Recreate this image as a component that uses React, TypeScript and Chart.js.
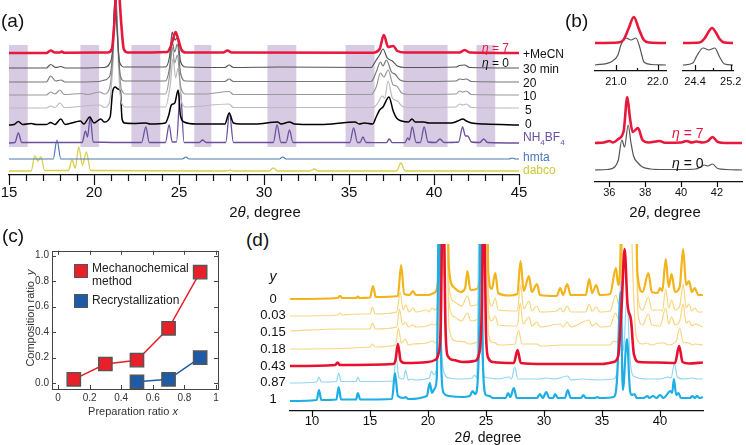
import React, { useEffect, useRef } from "react";
import { Chart, registerables } from "chart.js";
Chart.register(...registerables);

const FONT = "'Liberation Sans', Arial, Helvetica, sans-serif";
type P = [number, number];

// ---------------- Panel (a) ----------------
const aTickLabels = [15, 20, 25, 30, 35, 40, 45];
const aMinorTicks = [16, 17, 18, 19, 21, 22, 23, 24, 26, 27, 28, 29, 31, 32, 33, 34, 36, 37, 38, 39, 41, 42, 43, 44];
const aShadeRanges: P[] = [[15.0, 16.1], [19.2, 20.3], [22.2, 23.9], [25.9, 26.9], [30.2, 31.9], [34.8, 36.5], [38.2, 40.8], [42.5, 43.6]];
const aShadeTop = 130;
const aShadeBottom = 28;
const aSeriesNames = ["+MeCN", "30 min", "20", "10", "5", "0", "NH4BF4", "hmta", "dabco"];
const aOffsets = [122, 107, 93, 80, 67, 50, 32, 16, 4];

const aMeCN: P[] = [[15, 0], [17.2, 0], [17.45, 2.5], [17.7, 0.5], [18.0, 0.5], [18.1, 1.5], [18.25, 0.3], [20.8, 0.5], [21.05, 4], [21.2, 30], [21.32, 62], [21.45, 62], [21.6, 30], [21.75, 4], [22.0, 0.5], [24.3, 1], [24.5, 6], [24.65, 14], [24.8, 21], [24.95, 14], [25.15, 3], [25.4, 0.5], [27.6, 0.5], [27.85, 2.5], [28.1, 0.5], [36.4, 0.3], [36.8, 4], [37.05, 18], [37.3, 6], [37.6, 7], [37.85, 2], [38.3, 0.5], [41.5, 0.5], [41.8, 3], [42.1, 0.5], [45, 0]];
const a30min: P[] = [[15, 0], [17.2, 0], [17.45, 3.5], [17.75, 0.5], [18.05, 1.5], [18.3, 0], [20.6, 0.5], [20.9, 4], [21.1, 20], [21.22, 68], [21.35, 40], [21.5, 6], [21.8, 1], [24.2, 1], [24.45, 12], [24.6, 36], [24.75, 28], [24.9, 30], [25.1, 6], [25.4, 1], [27.7, 0.5], [27.95, 3], [28.2, 0.5], [30.9, 1], [36.3, 0.5], [36.6, 8], [36.8, 13], [37.0, 19], [37.25, 10], [37.55, 7], [37.85, 2], [38.3, 0.5], [41.3, 1], [41.5, 2.5], [41.8, 3], [42.1, 0.5], [45, 0]];
const a20: P[] = [[15, 0], [17.2, 0], [17.45, 6], [17.75, 1], [18.05, 2], [18.3, 0], [20.3, 0.5], [20.5, 1.5], [20.9, 5], [21.1, 30], [21.25, 85], [21.4, 40], [21.55, 6], [21.8, 1], [24.2, 1], [24.45, 15], [24.6, 40], [24.75, 30], [24.9, 38], [25.1, 8], [25.4, 1], [27.7, 0.5], [27.95, 3], [28.2, 0.5], [36.3, 0.5], [36.6, 10], [36.85, 20], [37.0, 16], [37.2, 22], [37.5, 10], [37.7, 8], [38.0, 2], [38.4, 0.5], [41.3, 1], [41.5, 3], [41.7, 2.5], [41.9, 3], [42.2, 0.5], [45, 0]];
const a10: P[] = [[15, 0], [17.2, 0], [17.45, 3], [17.7, 1], [18.0, 5], [18.25, 0.5], [19.3, 1.5], [19.6, 0.5], [20.35, 3], [20.6, 1], [20.9, 6], [21.1, 35], [21.28, 98], [21.45, 40], [21.6, 6], [21.9, 1], [24.2, 1], [24.45, 20], [24.6, 48], [24.75, 32], [24.9, 40], [25.1, 8], [25.4, 1], [26.5, 1], [27.95, 3.5], [28.2, 0.5], [36.3, 0.5], [36.6, 8], [36.85, 22], [37.05, 18], [37.3, 25], [37.6, 10], [37.8, 9], [38.1, 2], [38.5, 0.5], [41.3, 1], [41.5, 4], [41.7, 3], [41.9, 4], [42.2, 0.5], [45, 0]];
const a5: P[] = [[15, 0], [17.2, 0], [17.45, 2], [17.7, 0.5], [18.0, 5], [18.25, 0.5], [20.35, 3], [20.6, 0.5], [20.9, 5], [21.1, 40], [21.3, 110], [21.45, 40], [21.6, 6], [21.9, 1], [24.2, 1], [24.5, 25], [24.65, 50], [24.8, 30], [24.95, 40], [25.15, 6], [25.4, 1], [27.95, 4], [28.2, 0.5], [36.4, 0.5], [36.7, 5], [36.95, 12], [37.1, 10], [37.3, 27], [37.55, 10], [37.85, 7], [38.1, 2], [38.5, 0.5], [41.3, 1], [41.5, 4], [41.7, 3], [41.9, 4], [42.2, 0.5], [45, 0]];
const a0: P[] = [[15, 0], [15.3, 0.5], [15.55, 3.5], [15.8, 0.5], [16.3, 1.5], [16.6, 0.5], [17.2, 0.5], [17.45, 2.5], [17.7, 0.5], [18.05, 6], [18.3, 0.5], [18.9, 3], [19.2, 4], [19.4, 1], [19.75, 8], [20.0, 2], [20.4, 6], [20.6, 3], [20.95, 8], [21.1, 34], [21.25, 38], [21.4, 36], [21.55, 34], [21.65, 6], [21.8, 2], [22.3, 1.5], [23.05, 2], [23.3, 1], [24.2, 2], [24.4, 10], [24.55, 20], [24.75, 22], [24.95, 35], [25.08, 10], [25.3, 3], [26.0, 1], [27.7, 1], [27.95, 12], [28.2, 2], [28.6, 1], [29.5, 1], [30.8, 3], [31.0, 1], [31.5, 3], [31.8, 1], [33.0, 0.5], [34.0, 1], [35.35, 3], [35.6, 1], [35.9, 2], [36.4, 1], [36.6, 8], [36.8, 15], [37.0, 18], [37.35, 28], [37.6, 14], [37.8, 7], [38.1, 4], [38.5, 3], [38.7, 6], [38.9, 3], [39.4, 3], [39.7, 2], [40.4, 2], [41.0, 2], [41.4, 4], [41.7, 6], [41.9, 4], [42.2, 2], [43.0, 1], [45, 0]];
const aNH4BF4: P[] = [[15, 0], [15.35, 0.5], [15.55, 10], [15.75, 0.5], [19.3, 0.5], [19.5, 12], [19.62, 6], [19.78, 26], [19.95, 1], [22.8, 0.5], [23.05, 16], [23.25, 0.5], [24.2, 0.5], [24.42, 18], [24.6, 1], [24.85, 1], [25.08, 52], [25.3, 0.5], [26.2, 0.5], [26.38, 3], [26.6, 0.5], [27.75, 0.5], [27.97, 30], [28.2, 0.5], [30.55, 0.5], [30.77, 18], [31.0, 0.5], [31.3, 0.5], [31.5, 13], [31.7, 0.5], [35.05, 0.5], [35.27, 15], [35.5, 0.5], [35.65, 0.5], [35.82, 6], [36.0, 0.5], [37.2, 0.3], [37.37, 4], [37.55, 0.3], [38.3, 0.5], [38.45, 5], [38.55, 3], [38.72, 16], [38.95, 0.5], [39.2, 0.5], [39.42, 16], [39.65, 1], [40.1, 0.5], [40.35, 4], [40.6, 0.5], [41.45, 1], [41.68, 16], [41.85, 7], [41.98, 7], [42.2, 1], [42.7, 0.5], [42.92, 4], [43.15, 0.5], [45, 0]];
const aHmta: P[] = [[15, 0], [17.6, 0], [17.82, 19], [18.05, 0], [25.2, 0], [25.4, 2], [25.6, 0], [30.9, 0], [31.1, 2], [31.3, 0], [44.4, 0], [44.6, 1], [44.8, 0], [45, 0]];
const aDabco: P[] = [[15, 0], [16.3, 0], [16.52, 15], [16.7, 10], [16.88, 14], [17.1, 0.5], [18.5, 0.5], [18.7, 11], [18.9, 3], [19.1, 24], [19.32, 6], [19.55, 19], [19.8, 0.5], [27.8, 0], [28.0, 1], [28.2, 0], [30.3, 0], [30.55, 3], [30.8, 0], [32.7, 0], [32.95, 2], [33.2, 0], [37.8, 0], [38.05, 8], [38.3, 0], [45, 0]];
const aSeries = [aMeCN, a30min, a20, a10, a5, a0, aNH4BF4, aHmta, aDabco];
const aColors = ["#e8173c", "#555555", "#777777", "#999999", "#bbbbbb", "#000000", "#6b4f9e", "#4a78b5", "#d6d04a"];
const aWidths = [2.6, 1.2, 1.2, 1.2, 1.2, 1.5, 1.3, 1.2, 1.3];

// ---------------- Panel (b) ----------------
const bTLTicks = [21.0, 22.0];
const bTLMinor = [21.5];
const bTRTicks = [24.4, 25.2];
const bTRMinor = [24.8];
const bBotTicks = [36, 38, 40, 42];
const bOffsetsTop = [28, 6];
const bOffsetsBot = [39, 12];
const bTLRed: P[] = [[20.5, 0], [21.05, 0.5], [21.18, 3], [21.3, 14], [21.43, 26], [21.55, 14], [21.67, 3], [21.8, 0.5], [22.2, 0]];
const bTLGray: P[] = [[20.5, 0], [20.88, 3], [21.05, 10], [21.12, 20], [21.24, 27], [21.36, 25], [21.48, 27], [21.57, 18], [21.62, 10], [21.67, 3], [21.85, 0.5], [22.2, 0]];
const bTRRed: P[] = [[24.13, 0], [24.5, 0.5], [24.62, 5], [24.7, 11], [24.78, 15], [24.86, 11], [24.95, 4], [25.05, 0.5], [25.25, 0]];
const bTRGray: P[] = [[24.13, 0], [24.35, 2], [24.45, 10], [24.58, 17], [24.71, 15], [24.84, 17], [24.95, 8], [25.06, 1], [25.25, 0]];
const bBotRed: P[] = [[35.2, 0], [35.7, 0.5], [36.0, 2], [36.2, 0.5], [36.5, 4], [36.8, 12], [37.0, 46], [37.15, 25], [37.3, 11], [37.6, 15], [37.85, 3], [38.2, 0.5], [38.8, 2], [39.1, 0.3], [40.0, 0.5], [40.3, 2], [40.6, 0.5], [40.85, 1.5], [41.2, 0.5], [41.5, 2], [41.75, 6], [42.05, 1], [42.5, 0], [43.4, 0]];
const bBotGray: P[] = [[35.2, 0], [35.9, 0.5], [36.3, 3], [36.5, 10], [36.7, 30], [36.85, 23], [37.05, 45], [37.2, 28], [37.35, 14], [37.6, 7], [37.85, 3], [38.3, 1], [39.0, 0.5], [40.0, 0.5], [40.8, 1], [41.1, 3], [41.3, 5], [41.5, 4], [41.75, 6], [42.05, 1.5], [42.5, 0.5], [43.4, 0]];

// ---------------- Panel (c) ----------------
const cPrepMechano = [0.1, 0.3, 0.5, 0.7, 0.9];
const cCompMechano = [0.03, 0.15, 0.18, 0.43, 0.87];
const cPrepRecryst = [0.5, 0.7, 0.9];
const cCompRecryst = [0.01, 0.03, 0.2];
const cXTicks = [0, 0.2, 0.4, 0.6, 0.8, 1];
const cYTicks = [0, 0.2, 0.4, 0.6, 0.8, 1.0];

// ---------------- Panel (d) ----------------
const dTicks = [10, 15, 20, 25, 30, 35, 40];
const dLabels = ["0", "0.03", "0.15", "0.18", "0.43", "0.87", "1"];
const dOffsets = [114, 97, 82, 64, 47, 30, 12];
const dY0: P[] = [[8.1, -2], [12.2, -1], [12.4, 1], [12.6, -1], [13.8, -1], [13.95, 0.5], [14.1, -1], [15.0, -0.5], [15.25, 11], [15.5, 0], [17.4, 1], [17.68, 32], [17.95, 3], [18.4, 2], [18.7, 6], [18.95, 2], [20.0, 2], [20.5, 4], [20.8, 10], [21.0, 60], [21.15, 200], [21.35, 80], [21.55, 200], [21.8, 30], [22.2, 10], [22.8, 5], [23.2, 9], [23.4, 26], [23.65, 7], [24.2, 8], [24.5, 22], [24.7, 60], [24.85, 200], [25.0, 200], [25.2, 25], [25.5, 8], [25.8, 24], [26.05, 4], [27.0, 1.5], [27.7, 3], [27.98, 36], [28.25, 6], [28.7, 21], [28.95, 5], [29.4, 13], [29.65, 2], [31.1, 1], [31.4, 9], [31.65, 2], [32.0, 13], [32.3, 2], [33.6, 2], [33.9, 18], [34.15, 4], [34.5, 12], [34.8, 2], [35.7, 3], [36.2, 29], [36.4, 12], [36.6, 45], [36.75, 200], [36.95, 60], [37.3, 200], [37.5, 70], [37.8, 200], [38.05, 25], [38.5, 5], [39.0, 24], [39.3, 5], [39.8, 4], [40.0, 9], [40.2, 6], [40.5, 38], [40.75, 10], [41.0, 23], [41.3, 5], [41.7, 10], [42.0, 48], [42.25, 12], [42.5, 16], [42.75, 5], [43.0, 9], [43.3, 2], [43.7, 2]];
const dY003: P[] = [[8.1, -2], [12.2, -1], [12.4, 1], [12.6, -1], [13.9, 0], [15.0, 0], [15.2, 7], [15.45, 0], [17.3, 2], [17.6, 22], [17.85, 4], [18.1, 9], [18.35, 2], [18.7, 6], [18.95, 2], [19.9, 4], [20.1, 2], [20.35, 6], [20.6, 4], [20.85, 12], [21.1, 200], [21.35, 70], [21.55, 200], [21.8, 28], [22.3, 12], [22.9, 8], [23.4, 18], [23.7, 8], [24.3, 10], [24.6, 50], [24.85, 200], [25.0, 200], [25.2, 22], [25.5, 8], [25.8, 16], [26.05, 4], [27.7, 3], [27.98, 29], [28.25, 5], [28.7, 13], [28.95, 3], [29.4, 8], [29.65, 2], [31.1, 3], [31.4, 6], [31.65, 2], [32.0, 8], [32.3, 2], [33.6, 2], [33.9, 10], [34.15, 3], [34.5, 7], [34.8, 2], [35.7, 3], [36.2, 19], [36.45, 10], [36.7, 40], [36.9, 200], [37.4, 200], [37.8, 200], [38.1, 18], [38.5, 4], [39.0, 17], [39.3, 4], [40.0, 4], [40.2, 3], [40.5, 25], [40.75, 6], [41.0, 14], [41.3, 4], [41.7, 8], [42.0, 30], [42.25, 6], [42.5, 10], [42.75, 3], [43.0, 6], [43.3, 2], [43.7, 2]];
const dY015: P[] = [[8.1, -2], [12.4, 0], [13.9, 0], [15.0, 0], [15.2, 6], [15.45, 0], [17.3, 2], [17.55, 20], [17.8, 4], [18.05, 7], [18.3, 2], [18.7, 4], [18.95, 2], [19.9, 3], [20.35, 5], [20.6, 4], [20.85, 12], [21.1, 200], [21.35, 70], [21.55, 200], [21.8, 26], [22.3, 12], [22.9, 8], [23.4, 16], [23.7, 8], [24.3, 10], [24.6, 50], [24.85, 200], [25.0, 200], [25.2, 20], [25.5, 8], [25.8, 13], [26.05, 4], [27.7, 3], [27.95, 26], [28.2, 5], [28.7, 12], [28.95, 3], [29.4, 7], [29.65, 2], [31.4, 5], [31.65, 2], [32.0, 7], [32.3, 2], [33.9, 9], [34.15, 3], [34.5, 6], [34.8, 2], [35.7, 3], [36.15, 16], [36.45, 10], [36.7, 40], [36.9, 200], [37.4, 200], [37.8, 200], [38.1, 16], [38.5, 4], [39.0, 15], [39.3, 4], [40.0, 3], [40.5, 21], [40.75, 5], [41.0, 12], [41.3, 4], [41.7, 8], [42.0, 25], [42.25, 6], [42.5, 8], [42.75, 3], [43.0, 5], [43.7, 2]];
const dY018: P[] = [[8.1, -2], [15.0, 0], [15.2, 3], [15.45, 0], [17.2, 2], [17.45, 19], [17.7, 4], [18.05, 8], [18.3, 2], [18.7, 3], [19.9, 4], [20.4, 6], [20.65, 4], [20.9, 12], [21.1, 200], [21.35, 70], [21.55, 200], [21.8, 20], [22.4, 6], [23.2, 5], [23.5, 3], [24.3, 6], [24.6, 50], [24.85, 200], [25.0, 200], [25.2, 15], [25.5, 5], [25.8, 4], [26.1, 2], [27.5, 3], [27.8, 17], [28.1, 3], [28.7, 3], [29.4, 3], [29.7, 1], [31.5, 2], [32.0, 2], [33.9, 2], [35.7, 2], [36.0, 6], [36.3, 5], [36.6, 40], [36.8, 200], [37.3, 200], [37.7, 60], [37.95, 10], [38.5, 3], [38.9, 4], [39.2, 2], [40.0, 4], [40.4, 4], [40.7, 2], [41.4, 6], [41.7, 19], [42.0, 5], [42.5, 4], [42.8, 2], [43.0, 3], [43.7, 2]];
const dY043: P[] = [[8.1, -2], [12.0, -1], [12.2, 1.5], [12.4, -1], [17.0, 0], [17.2, 4], [17.4, 20], [17.65, 3], [18.0, 1], [20.0, 2], [20.6, 4], [20.9, 10], [21.1, 40], [21.3, 200], [21.5, 40], [21.7, 8], [22.2, 4], [23.0, 2], [24.0, 3], [24.4, 10], [24.65, 60], [24.8, 200], [25.0, 30], [25.2, 6], [25.6, 2], [27.4, 1], [27.72, 14], [28.0, 1], [30.0, 0], [35.0, 0], [36.0, 2], [36.4, 8], [36.7, 60], [36.95, 115], [37.2, 60], [37.5, 44], [37.75, 10], [38.2, 2], [39.8, 1.5], [41.3, 1], [41.65, 18], [41.95, 2], [42.5, 0.5], [43.7, 1.5]];
const dY087: P[] = [[8.1, -2], [10.4, -1], [10.6, 4], [10.8, -1], [12.1, -0.5], [12.3, 8], [12.5, -0.5], [13.8, -0.5], [13.95, 4], [14.15, -0.5], [17.0, 0], [17.25, 24], [17.5, 3], [17.9, 2], [18.05, 11], [18.3, 1], [18.6, 2], [18.9, 1], [20.1, 3], [20.3, 10], [20.5, 6], [20.75, 12], [20.95, 200], [21.15, 40], [21.4, 8], [21.8, 3], [23.0, 2], [23.8, 3], [24.0, 6], [24.2, 3], [24.45, 200], [24.65, 30], [24.9, 4], [25.3, 3], [26.0, 2], [27.0, 4], [27.2, 2], [27.48, 14], [27.75, 2], [29.3, 2], [29.65, 2], [30.2, 3], [30.9, 2], [32.05, 5], [32.3, 1], [33.4, 2], [34.6, 1], [36.0, 2], [36.4, 20], [36.6, 100], [36.85, 30], [37.15, 85], [37.4, 25], [37.7, 5], [38.9, 2], [40.0, 2], [40.7, 4], [40.95, 3], [41.25, 17], [41.5, 4], [42.0, 2], [42.8, 3], [43.2, 2], [43.7, 2]];
const dY1: P[] = [[8.1, -2], [10.4, -1], [10.6, 9], [10.8, -1], [12.1, -0.5], [12.3, 12], [12.5, -0.5], [13.8, -0.5], [13.95, 6], [14.15, -0.5], [16.9, 0], [17.15, 26], [17.4, 3], [17.9, 1], [18.05, 2], [18.3, 0], [19.9, 3], [20.15, 16], [20.35, 6], [20.55, 10], [20.75, 20], [20.95, 200], [21.15, 30], [21.35, 6], [21.8, 3], [23.0, 2], [23.6, 3], [23.85, 8], [24.05, 5], [24.2, 8], [24.4, 60], [24.55, 200], [24.75, 30], [25.0, 4], [25.3, 3], [25.6, 1], [26.7, 1], [26.9, 6], [27.1, 2], [27.4, 11], [27.65, 1], [29.4, 1], [29.65, 5], [29.9, 1], [30.2, 7], [30.45, 1], [30.8, 1], [30.95, 5], [31.2, 1], [31.8, 1], [32.05, 9], [32.3, 1], [33.2, 1], [33.4, 4], [33.6, 1], [34.4, 1], [34.6, 2], [34.8, 1], [36.0, 2], [36.3, 20], [36.6, 107], [36.8, 9], [37.15, 60], [37.4, 10], [37.55, 4], [37.8, 5], [38.0, 1], [38.6, 1], [38.9, 3], [39.1, 1], [39.4, 3], [39.7, 1], [40.0, 4], [40.3, 1], [40.9, 8], [41.05, 6], [41.2, 20], [41.4, 4], [41.6, 6], [41.8, 1], [42.6, 1], [42.8, 3], [43.0, 1], [43.2, 3], [43.4, 1], [43.7, 2]];
const dSeries = [dY0, dY003, dY015, dY018, dY043, dY087, dY1];
const dColors = ["#f2b31b", "#f8d57f", "#f8d57f", "#f8d57f", "#e8102e", "#8fd6f2", "#1caee4"];
const dWidths = [2.2, 1.2, 1.2, 1.2, 2.6, 1.2, 2.2];
// drawing order: red on top, then blue etc.
const dDrawOrder = [4, 6, 5, 0, 1, 2, 3];

// ---------------- helpers ----------------
function lineDs(pts: P[], off: number, color: string, width: number) {
  return {
    data: pts.map(([x, h]) => ({ x, y: h + off })),
    borderColor: color,
    borderWidth: width,
    pointRadius: 0,
    fill: false,
    tension: 0.4,
    cubicInterpolationMode: "monotone",
  };
}

type Mark = { scale: string; side: "bottom" | "top" | "left" | "right"; values: number[]; len: number };
function tickPlugin(marks: Mark[], color: string, width: number) {
  return {
    id: "tickMarks",
    afterDraw(chart: any) {
      const { ctx, chartArea: ca } = chart;
      ctx.save();
      ctx.strokeStyle = color;
      ctx.lineWidth = width;
      for (const m of marks) {
        const sc = chart.scales[m.scale];
        for (const v of m.values) {
          const p = Math.round(sc.getPixelForValue(v)) + 0.5;
          ctx.beginPath();
          if (m.side === "bottom") { ctx.moveTo(p, ca.bottom); ctx.lineTo(p, ca.bottom - m.len); }
          else if (m.side === "top") { ctx.moveTo(p, ca.top); ctx.lineTo(p, ca.top + m.len); }
          else if (m.side === "left") { ctx.moveTo(ca.left, p); ctx.lineTo(ca.left + m.len, p); }
          else { ctx.moveTo(ca.right, p); ctx.lineTo(ca.right - m.len, p); }
          ctx.stroke();
        }
      }
      ctx.restore();
    },
  };
}

const shadePlugin = {
  id: "shade",
  beforeDatasetsDraw(chart: any) {
    const { ctx } = chart;
    const xs = chart.scales.x, ys = chart.scales.y;
    ctx.save();
    ctx.fillStyle = "rgba(186,166,208,0.58)";
    for (const [a, b] of aShadeRanges) {
      const x0 = xs.getPixelForValue(a), x1 = xs.getPixelForValue(b);
      const y0 = ys.getPixelForValue(aShadeTop), y1 = ys.getPixelForValue(aShadeBottom);
      ctx.fillRect(x0, y0, x1 - x0, y1 - y0);
    }
    ctx.restore();
  },
};

const boxPlugin = {
  id: "box",
  afterDraw(chart: any) {
    const { ctx, chartArea: ca } = chart;
    ctx.save();
    ctx.strokeStyle = "#444";
    ctx.lineWidth = 1;
    ctx.strokeRect(Math.round(ca.left) + 0.5, Math.round(ca.top) + 0.5, Math.round(ca.right - ca.left), Math.round(ca.bottom - ca.top));
    ctx.restore();
  },
};

function xAxis(min: number, max: number, ticks: number[], size: number, pad: number, height: number, fmt: (v: number) => string, border = true, color = "#111") {
  return {
    type: "linear",
    min, max,
    grid: { display: false, drawTicks: false },
    border: { display: border, color: "#111", width: 1.3 },
    afterBuildTicks: (s: any) => { s.ticks = ticks.map((v) => ({ value: v })); },
    afterFit: (s: any) => { s.height = height; s.paddingLeft = 0; s.paddingRight = 0; },
    ticks: { font: { family: FONT, size }, color, padding: pad, maxRotation: 0, autoSkip: false, callback: (v: any) => fmt(Number(v)) },
  };
}

function baseOptions(padding: any, x: any, y: any) {
  return {
    responsive: false,
    animation: false,
    devicePixelRatio: 1,
    events: [],
    layout: { padding },
    plugins: { legend: { display: false }, tooltip: { enabled: false }, title: { display: false } },
    scales: { x, y },
  };
}

function ChartCanvas({ left, top, width, height, make }: { left: number; top: number; width: number; height: number; make: () => any }) {
  const ref = useRef<HTMLCanvasElement>(null);
  useEffect(() => {
    const chart = new Chart(ref.current as HTMLCanvasElement, make());
    return () => chart.destroy();
  }, []);
  return <canvas ref={ref} width={width} height={height} style={{ position: "absolute", left, top, width, height }} />;
}

function Txt({ x, y, size, color = "#111", anchor = "left", children, style = {} }: any) {
  const tx = anchor === "center" ? "-50%" : anchor === "right" ? "-100%" : "0";
  return (
    <div style={{ position: "absolute", left: x, top: y, transform: `translate(${tx},-50%)`, fontSize: size, lineHeight: 1, color, fontFamily: FONT, whiteSpace: "nowrap", ...style }}>
      {children}
    </div>
  );
}

// ---------------- chart configs ----------------
const makeA = () => ({
  type: "line",
  data: { datasets: aSeries.map((s, i) => lineDs(s, aOffsets[i], aColors[i], aWidths[i])) },
  options: baseOptions(
    { left: 9, right: 16, top: 0, bottom: 0 },
    xAxis(15, 45, aTickLabels, 15, 9, 40, (v) => String(v)),
    { display: false, min: 0, max: 175 }
  ),
  plugins: [shadePlugin, tickPlugin([{ scale: "x", side: "bottom", values: aTickLabels, len: -10 }, { scale: "x", side: "bottom", values: aMinorTicks, len: -6 }], "#111", 1.2)],
});

const makeBTL = () => ({
  type: "line",
  data: { datasets: [lineDs(bTLRed, bOffsetsTop[0], "#e8173c", 2.6), lineDs(bTLGray, bOffsetsTop[1], "#555", 1.2)] },
  options: baseOptions({ left: 10, right: 9, top: 8, bottom: 0 }, xAxis(20.5, 22.2, bTLTicks, 11, 4, 24, (v) => v.toFixed(1)), { display: false, min: 0, max: 63 }),
  plugins: [tickPlugin([{ scale: "x", side: "bottom", values: bTLTicks, len: 6 }, { scale: "x", side: "bottom", values: bTLMinor, len: 3 }], "#111", 1.2)],
});

const makeBTR = () => ({
  type: "line",
  data: { datasets: [lineDs(bTRRed, bOffsetsTop[0], "#e8173c", 2.6), lineDs(bTRGray, bOffsetsTop[1], "#555", 1.2)] },
  options: baseOptions({ left: 8, right: 13, top: 8, bottom: 0 }, xAxis(24.13, 25.25, bTRTicks, 11, 4, 24, (v) => v.toFixed(1)), { display: false, min: 0, max: 63 }),
  plugins: [tickPlugin([{ scale: "x", side: "bottom", values: bTRTicks, len: 6 }, { scale: "x", side: "bottom", values: bTRMinor, len: 3 }], "#111", 1.2)],
});

const makeBBot = () => ({
  type: "line",
  data: { datasets: [lineDs(bBotRed, bOffsetsBot[0], "#e8173c", 2.6), lineDs(bBotGray, bOffsetsBot[1], "#555", 1.2)] },
  options: baseOptions({ left: 10, right: 4, top: 3, bottom: 0 }, xAxis(35.2, 43.4, bBotTicks, 11, 4, 28, (v) => String(v)), { display: false, min: 0, max: 94 }),
  plugins: [tickPlugin([{ scale: "x", side: "bottom", values: bBotTicks, len: -5 }], "#111", 1.2)],
});

const makeC = () => ({
  type: "line",
  data: {
    datasets: [
      {
        data: cPrepMechano.map((x, i) => ({ x, y: cCompMechano[i] })),
        borderColor: "#e8202a", borderWidth: 1.5, pointStyle: "rect", pointRadius: 9.4,
        pointBackgroundColor: "#e8202a", pointBorderColor: "#555", pointBorderWidth: 1.4, fill: false, tension: 0,
      },
      {
        data: cPrepRecryst.map((x, i) => ({ x, y: cCompRecryst[i] })),
        borderColor: "#1f5aa6", borderWidth: 1.5, pointStyle: "rect", pointRadius: 9.4,
        pointBackgroundColor: "#1f5aa6", pointBorderColor: "#555", pointBorderWidth: 1.4, fill: false, tension: 0,
      },
    ],
  },
  options: baseOptions(
    { left: 0, right: 12, top: 5, bottom: 0 },
    xAxis(-0.038, 1.013, cXTicks, 10, 3, 31, (v) => String(v), false, "#333"),
    {
      type: "linear", min: -0.046, max: 1.038,
      grid: { display: false, drawTicks: false }, border: { display: false },
      afterBuildTicks: (s: any) => { s.ticks = cYTicks.map((v) => ({ value: v })); },
      afterFit: (s: any) => { s.width = 52; s.paddingTop = 0; s.paddingBottom = 0; },
      ticks: { font: { family: FONT, size: 10 }, color: "#333", padding: 3, autoSkip: false, callback: (v: any) => Number(v).toFixed(1) },
    }
  ),
  plugins: [
    boxPlugin,
    tickPlugin(
      [
        { scale: "y", side: "left", values: cYTicks, len: 4 },
        { scale: "y", side: "right", values: cYTicks, len: 4 },
        { scale: "x", side: "bottom", values: cXTicks, len: 4 },
        { scale: "x", side: "top", values: cXTicks, len: 4 },
      ],
      "#444", 1
    ),
  ],
});

const makeD = () => ({
  type: "line",
  data: { datasets: dDrawOrder.map((i) => lineDs(dSeries[i], dOffsets[i], dColors[i], dWidths[i])) },
  options: baseOptions({ left: 10, right: 7, top: 9, bottom: 0 }, xAxis(8.1, 43.71, dTicks, 13, 3, 24, (v) => String(v)), { display: false, min: 0, max: 167 }),
  plugins: [tickPlugin([{ scale: "x", side: "bottom", values: dTicks, len: -6 }], "#111", 1.2)],
});

const Theta = () => <i>θ</i>;

export default function App() {
  useEffect(() => {
    document.body.style.margin = "0";
  }, []);
  const aLabelY = [54, 69, 83, 96, 110, 124, 139, 157, 170];
  const dLabelY = [298, 314, 331, 348, 365, 381, 398];
  return (
    <div style={{ position: "absolute", left: 0, top: 0, width: 746, height: 445, background: "#fff", overflow: "hidden", fontFamily: FONT }}>
      <ChartCanvas left={0} top={0} width={535} height={215} make={makeA} />
      <ChartCanvas left={585} top={0} width={90} height={95} make={makeBTL} />
      <ChartCanvas left={675} top={0} width={71} height={95} make={makeBTR} />
      <ChartCanvas left={585} top={85} width={161} height={125} make={makeBBot} />
      <ChartCanvas left={0} top={240} width={230} height={180} make={makeC} />
      <ChartCanvas left={280} top={235} width={430} height={200} make={makeD} />

      {/* panel letters */}
      <Txt x={1} y={20} size={19}>(a)</Txt>
      <Txt x={565} y={20} size={19}>(b)</Txt>
      <Txt x={2} y={235} size={19}>(c)</Txt>
      <Txt x={246} y={239} size={19}>(d)</Txt>

      {/* (a) labels */}
      <Txt x={523} y={aLabelY[0]} size={12}>{aSeriesNames[0]}</Txt>
      <Txt x={523} y={aLabelY[1]} size={12}>{aSeriesNames[1]}</Txt>
      <Txt x={523} y={aLabelY[2]} size={12}>{aSeriesNames[2]}</Txt>
      <Txt x={523} y={aLabelY[3]} size={12}>{aSeriesNames[3]}</Txt>
      <Txt x={525} y={aLabelY[4]} size={12}>{aSeriesNames[4]}</Txt>
      <Txt x={525} y={aLabelY[5]} size={12}>{aSeriesNames[5]}</Txt>
      <Txt x={523} y={aLabelY[6]} size={12} color="#6b4f9e">NH<sub style={{ fontSize: 8 }}>4</sub>BF<sub style={{ fontSize: 8 }}>4</sub></Txt>
      <Txt x={523} y={aLabelY[7]} size={12} color="#4a78b5">{aSeriesNames[7]}</Txt>
      <Txt x={523} y={aLabelY[8]} size={12} color="#cfc83a">{aSeriesNames[8]}</Txt>
      <Txt x={482} y={48} size={12} color="#e8173c"><i>η</i> = 7</Txt>
      <Txt x={482} y={63} size={12}><i>η</i> = 0</Txt>
      <Txt x={265} y={211} size={15} anchor="center">2<Theta />, degree</Txt>

      {/* (b) labels */}
      <Txt x={672} y={133} size={14} color="#e8173c"><i>η</i> = 7</Txt>
      <Txt x={672} y={163} size={14}><i>η</i> = 0</Txt>
      <Txt x={665} y={211} size={15} anchor="center">2<Theta />, degree</Txt>

      {/* (c) labels */}
      <div style={{ position: "absolute", left: 30, top: 318, transform: "translate(-50%,-50%) rotate(-90deg)", fontSize: 11, lineHeight: 1, color: "#333", whiteSpace: "nowrap", fontFamily: FONT }}>
        Composition ratio&nbsp; <i>y</i>
      </div>
      <Txt x={133} y={411} size={11} color="#333" anchor="center">Preparation ratio <i>x</i></Txt>
      <div style={{ position: "absolute", left: 74, top: 264, width: 12, height: 12, background: "#e8202a", border: "1.4px solid #555" }} />
      <Txt x={92} y={268} size={12} color="#222">Mechanochemical</Txt>
      <Txt x={92} y={281} size={12} color="#222">method</Txt>
      <div style={{ position: "absolute", left: 74, top: 294, width: 12, height: 12, background: "#1f5aa6", border: "1.4px solid #555" }} />
      <Txt x={92} y={300} size={12} color="#222">Recrystallization</Txt>

      {/* (d) labels */}
      <Txt x={273} y={276} size={14} anchor="center"><i>y</i></Txt>
      {dLabels.map((l, i) => (
        <Txt key={l} x={273} y={dLabelY[i]} size={13} anchor="center">{l}</Txt>
      ))}
      <Txt x={488} y={437} size={14} anchor="center">2<Theta />, degree</Txt>
    </div>
  );
}
